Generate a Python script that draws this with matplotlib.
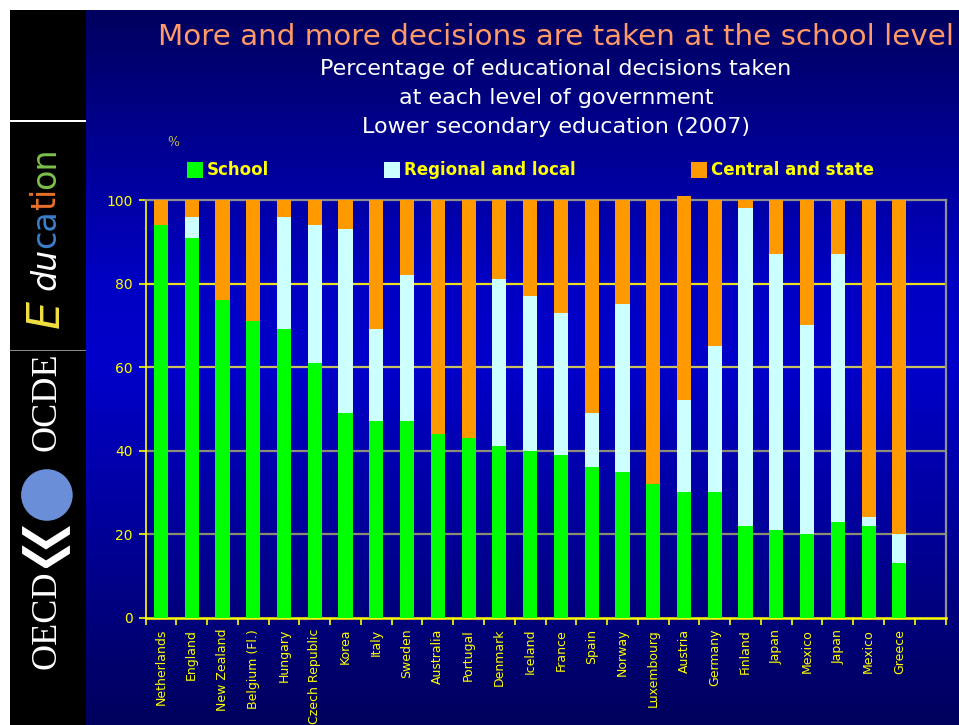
import numpy as np
import matplotlib
matplotlib.use('Agg')
import matplotlib.pyplot as plt
from matplotlib.patches import Rectangle, Ellipse, Polygon
from matplotlib.colors import LinearSegmentedColormap

# ---------------- data ----------------
countries = ["Netherlands", "England", "New Zealand", "Belgium (Fl.)", "Hungary",
             "Czech Republic", "Korea", "Italy", "Sweden", "Australia", "Portugal",
             "Denmark", "Iceland", "France", "Spain", "Norway", "Luxembourg",
             "Austria", "Germany", "Finland", "Japan", "Mexico", "Japan", "Mexico",
             "Greece"]
school = [94, 91, 76, 71, 69, 61, 49, 47, 47, 44, 43, 41, 40, 39, 36, 35, 32,
          30, 30, 22, 21, 20, 23, 22, 13]
regional = [0, 5, 0, 0, 27, 33, 44, 22, 35, 0, 0, 40, 37, 34, 13, 40, 0,
            22, 35, 76, 66, 50, 64, 2, 7]
central = [6, 4, 24, 29, 4, 6, 7, 31, 18, 56, 57, 19, 23, 27, 51, 25, 68,
           49, 35, 2, 13, 30, 13, 76, 80]
series_names = ["School", "Regional and local", "Central and state"]
yticks = [0, 20, 40, 60, 80, 100]

title = "More and more decisions are taken at the school level"
subtitle = ["Percentage of educational decisions taken",
            "at each level of government",
            "Lower secondary education (2007)"]

# ---------------- style ----------------
W, H = 959, 725
GREEN, CYAN, ORANGE = "#00FF00", "#CCFFFF", "#FF9900"
YELLOW = "#FFFF00"
FONT = "DejaVu Sans"

def fx(px):
    return px / W

def fy(py):
    return 1 - py / H

fig = plt.figure(figsize=(W / 100, H / 100), dpi=100)
fig.patch.set_facecolor("white")

# background gradient (blue)
bg = fig.add_axes([fx(86), 0, 1 - fx(86), fy(10)])
bg.set_axis_off()
cmap = LinearSegmentedColormap.from_list(
    "bg", [(0.0, "#00005E"), (0.08, "#00006C"), (0.3, "#0000A0"),
           (0.5, "#0000CA"), (0.62, "#0000C4"), (0.85, "#000088"),
           (1.0, "#00005E")])
grad = np.linspace(1, 0, 256).reshape(-1, 1)
bg.imshow(grad, aspect="auto", cmap=cmap, extent=[0, 1, 0, 1], vmin=0, vmax=1)
bg.set_zorder(0)

# black sidebar
fig.patches.append(Rectangle((fx(10), 0), fx(86) - fx(10), fy(10),
                             transform=fig.transFigure, facecolor="black",
                             edgecolor="none", zorder=1))
fig.patches.append(Rectangle((fx(10), fy(122)), fx(86) - fx(10), 2 / H,
                             transform=fig.transFigure, facecolor="white",
                             edgecolor="none", zorder=2))
fig.patches.append(Rectangle((fx(10), fy(351)), fx(86) - fx(10), 1.5 / H,
                             transform=fig.transFigure, facecolor="#888888",
                             edgecolor="none", zorder=2))

# "Education" logo (rotated)
edu_parts = [("E", 314, "#F0E040", 32, "italic"), ("du", 269, "white", 24, "italic"),
             ("ca", 229, "#3A7FC8", 24, "normal"), ("ti", 199, "#E8702A", 24, "normal"),
             ("on", 168, "#7CC04A", 24, "normal")]
for txt, py, col, sz, st in edu_parts:
    fig.text(fx(46), fy(py), txt, rotation=90, color=col, fontsize=sz,
             ha="center", va="center", family="DejaVu Sans", style=st, zorder=5)

# OECD logo
fig.text(fx(47), fy(402), "OCDE", rotation=90, color="white", fontsize=26,
         ha="center", va="center", family="Liberation Serif", zorder=5)
circ_ax = fig.add_axes([fx(16), fy(526), fx(60), 62 / H])
circ_ax.set_axis_off()
circ_ax.set_zorder(5)
circ_ax.set_xlim(-1, 1)
circ_ax.set_ylim(-1, 1)
circ_ax.add_patch(Ellipse((0.03, 0), 1.72, 1.72 * 60 / 62,
                          facecolor="#6A8FD8", edgecolor="none"))
chev_ax = fig.add_axes([fx(20), fy(568), fx(52), 42 / H])
chev_ax.set_axis_off()
chev_ax.set_zorder(5)
chev_ax.set_xlim(0, 1)
chev_ax.set_ylim(0, 1)
for off in (0.0, 0.46):
    chev_ax.add_patch(Polygon([(0.04, 1.0 - off), (0.5, 0.64 - off), (0.96, 1.0 - off),
                               (0.96, 0.80 - off), (0.5, 0.44 - off), (0.04, 0.80 - off)],
                              closed=True, facecolor="white", edgecolor="none"))
fig.text(fx(47), fy(620), "OECD", rotation=90, color="white", fontsize=26,
         ha="center", va="center", family="Liberation Serif", zorder=5)

# titles
fig.text(fx(556), fy(37), title, color="#FF9966", fontsize=21.2, ha="center",
         va="center", family=FONT)
for i, line in enumerate(subtitle):
    fig.text(fx(556), fy(69 + 29 * i), line, color="white", fontsize=16,
             ha="center", va="center", family=FONT)
fig.text(fx(173), fy(143), "%", color="#C8C040", fontsize=9, ha="center",
         va="center", family="DejaVu Serif")

# legend
leg_items = [(187, GREEN, series_names[0]), (384, CYAN, series_names[1]),
             (691, ORANGE, series_names[2])]
for px, col, name in leg_items:
    fig.patches.append(Rectangle((fx(px), fy(178)), 16 / W, 16 / H,
                                 transform=fig.transFigure, facecolor=col,
                                 edgecolor="none", zorder=3))
    fig.text(fx(px + 20), fy(170), name, color=YELLOW, fontsize=12,
             fontweight="bold", ha="left", va="center", family=FONT)

# ---------------- chart ----------------
ax = fig.add_axes([fx(145.5), 1 - 617.7 / H, (945.5 - 145.5) / W, (617.7 - 200) / H])
ax.set_facecolor("none")
ax.set_zorder(3)
x = np.arange(len(countries))
school_a = np.array(school)
regional_a = np.array(regional)
central_a = np.array(central)
bw = 0.46
ax.bar(x, school_a, width=bw, color=GREEN, zorder=3, clip_on=False)
ax.bar(x, regional_a, width=bw, bottom=school_a, color=CYAN, zorder=3, clip_on=False)
ax.bar(x, central_a, width=bw, bottom=school_a + regional_a, color=ORANGE,
       zorder=3, clip_on=False)

ax.set_xlim(-0.5, len(countries) + 0.5)
ax.set_ylim(0, 100)

grid_cols = {20: "#8C8C70", 40: "#8C8C78", 60: "#C8C060", 80: "#E8E020"}
for yv, c in grid_cols.items():
    ax.axhline(yv, color=c, lw=1.6, zorder=1)

for side in ("top", "right"):
    ax.spines[side].set_color("#909090")
    ax.spines[side].set_linewidth(1.6)
for side in ("left", "bottom"):
    ax.spines[side].set_color(YELLOW)
    ax.spines[side].set_linewidth(1.2)
ax.spines["bottom"].set_linewidth(1.8)

ax.set_yticks(yticks)
ax.set_yticklabels([str(v) for v in yticks])
ax.tick_params(axis="y", colors=YELLOW, length=5, width=1.2, labelsize=10,
               pad=4)
for lab in ax.get_yticklabels():
    lab.set_family(FONT)

ax.set_xticks(np.arange(-0.5, len(countries) + 1.0, 1.0))
ax.set_xticklabels([])
ax.tick_params(axis="x", which="major", colors=YELLOW, length=5, width=1.2)
ax.set_xticks(x, minor=True)
ax.set_xticklabels(countries, minor=True, rotation=90, color=YELLOW,
                   fontsize=9, family=FONT, va="top", ha="center")
ax.tick_params(axis="x", which="minor", length=0, pad=8)

fig.savefig("out.png", dpi=100)
